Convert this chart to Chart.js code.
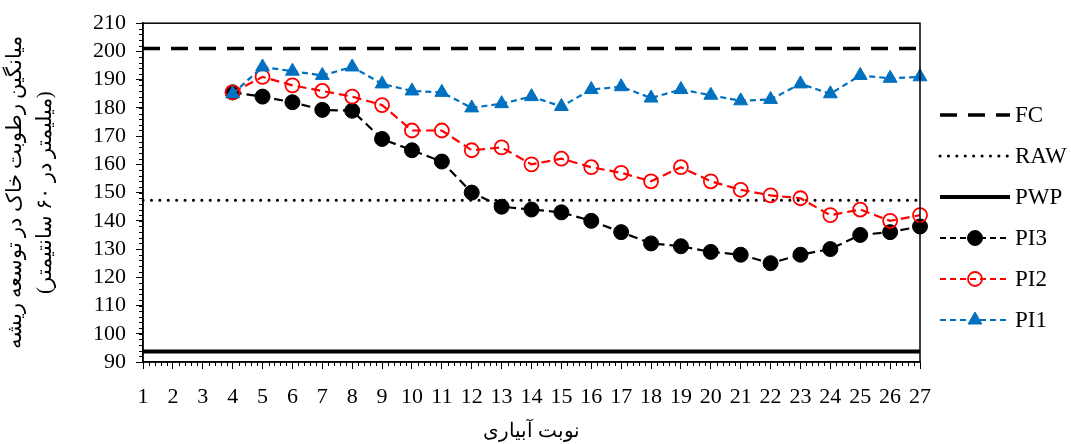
<!DOCTYPE html>
<html>
<head>
<meta charset="utf-8">
<script src="https://cdn.jsdelivr.net/npm/chart.js@4.4.1/dist/chart.umd.min.js"></script>
<style>
  html, body { margin: 0; padding: 0; background: #fff; }
  #wrap { width: 1071px; height: 444px; }
</style>
</head>
<body>
<div id="wrap"><canvas id="soilChart"></canvas></div>
<script>
// --- DATA ---
const irrigationRounds = ['1','2','3','4','5','6','7','8','9','10','11','12','13','14',
  '15','16','17','18','19','20','21','22','23','24','25','26','27'];
const pi3Values = [null, null, null, 185.5, 184, 182, 179.3, 179, 169, 165, 161, 150, 145, 144,
  143, 140, 136, 132, 131, 129, 128, 125, 128, 130, 135, 136, 138];
const pi2Values = [null, null, null, 185.5, 191, 188, 186, 184, 181, 172, 172, 165, 166, 160,
  162, 159, 157, 154, 159, 154, 151, 149, 148, 142, 144, 140, 142];
const pi1Values = [null, null, null, 185, 194.5, 193, 191.5, 194.5, 188.5, 186, 185.5, 180, 181.5, 184,
  180.5, 186.5, 187.5, 183.5, 186.5, 184.5, 182.5, 183, 188.5, 185, 191.5, 190.5, 191];
const fcLevel = 201;
const rawLevel = 147.3;
const pwpLevel = 93.7;
const yMin = 90, yMax = 210, yStep = 10;

const yTitle = ['میانگین رطوبت خاک در توسعه ریشه', '(میلیمتر در ۶۰ سانتیمتر)'];
const xTitle = 'نوبت آبیاری';

const FONT = "'Liberation Serif', 'Times New Roman', serif";

// box round the plot, minor ticks and a legend with line samples
const extras = {
  id: 'extras',
  afterDraw(chart) {
    const { ctx, chartArea: a, scales: { x, y } } = chart;
    ctx.save();
    ctx.strokeStyle = '#000';
    ctx.lineWidth = 1.5;
    ctx.strokeRect(a.left, a.top, a.right - a.left, a.bottom - a.top);

    ctx.lineWidth = 1;
    ctx.beginPath();
    for (let v = yMin; v <= yMax; v += 2) {
      const py = Math.round(y.getPixelForValue(v)) + 0.5;
      ctx.moveTo(a.left - 4, py); ctx.lineTo(a.left, py);
    }
    for (let i = 0; i < irrigationRounds.length - 1; i++) {
      for (let k = 1; k < 5; k++) {
        const px = Math.round(x.getPixelForValue(i + k / 5)) + 0.5;
        ctx.moveTo(px, a.bottom); ctx.lineTo(px, a.bottom + 4);
      }
    }
    ctx.stroke();

    // legend
    const lx0 = 940, lx1 = 1010, rowTop = 115, rowGap = 41;
    chart.data.datasets.forEach((ds, i) => {
      const ry = rowTop + i * rowGap;
      ctx.save();
      ctx.strokeStyle = ds.borderColor;
      ctx.lineWidth = ds.borderWidth;
      ctx.lineCap = ds.borderCapStyle || 'butt';
      ctx.setLineDash(ds.legendDash || ds.borderDash || []);
      ctx.beginPath();
      ctx.moveTo(lx0, ry); ctx.lineTo(lx1, ry);
      ctx.stroke();
      ctx.setLineDash([]);
      if (ds.pointRadius > 0) {
        ctx.fillStyle = ds.pointBackgroundColor;
        ctx.strokeStyle = ds.pointBorderColor;
        ctx.lineWidth = ds.pointBorderWidth;
        Chart.helpers.drawPoint(ctx, {
          pointStyle: ds.pointStyle, radius: ds.pointRadius, rotation: 0,
          borderWidth: ds.pointBorderWidth
        }, (lx0 + lx1) / 2, ry);
      }
      ctx.fillStyle = '#000';
      ctx.font = '23px ' + FONT;
      ctx.textBaseline = 'middle';
      ctx.fillText(ds.label, lx1 + 5, ry + 1);
      ctx.restore();
    });
    ctx.restore();
  }
};

const flat = v => irrigationRounds.map(() => v);

const ctx = document.getElementById('soilChart').getContext('2d');
const soilChart = new Chart(ctx, {
  type: 'line',
  data: {
    labels: irrigationRounds,
    datasets: [
      { label: 'FC', data: flat(fcLevel), borderColor: '#000', borderWidth: 3.5,
        borderDash: [17, 11], pointRadius: 0, order: 5 },
      { label: 'RAW', data: flat(rawLevel), borderColor: '#000', borderWidth: 3,
        borderDash: [0.1, 8.3], borderCapStyle: 'round', pointRadius: 0, order: 4 },
      { label: 'PWP', data: flat(pwpLevel), borderColor: '#000', borderWidth: 4,
        pointRadius: 0, order: 3 },
      { label: 'PI3', data: pi3Values, borderColor: '#000', borderWidth: 2.2,
        borderDash: [9, 5], legendDash: [6, 4], pointStyle: 'circle', pointRadius: 7.5,
        pointBackgroundColor: '#000', pointBorderColor: '#000', pointBorderWidth: 1, order: 2 },
      { label: 'PI2', data: pi2Values, borderColor: '#ff0000', borderWidth: 2.2,
        borderDash: [9, 5], legendDash: [6, 4], pointStyle: 'circle', pointRadius: 7,
        pointBackgroundColor: 'rgba(0,0,0,0)', pointBorderColor: '#ff0000', pointBorderWidth: 1.8, order: 1 },
      { label: 'PI1', data: pi1Values, borderColor: '#0070c0', borderWidth: 2.2,
        borderDash: [6, 4], legendDash: [6, 4], pointStyle: 'triangle', pointRadius: 8,
        pointBackgroundColor: '#0070c0', pointBorderColor: '#0070c0', pointBorderWidth: 1, order: 0 }
    ]
  },
  options: {
    responsive: true,
    maintainAspectRatio: false,
    animation: false,
    spanGaps: false,
    layout: { padding: { top: 12, right: 151, left: 0, bottom: 0 } },
    plugins: { legend: { display: false }, tooltip: { enabled: false } },
    elements: { line: { tension: 0 } },
    scales: {
      x: {
        type: 'category',
        offset: false,
        afterFit(scale) { scale.height = 82; },
        grid: { drawOnChartArea: false, drawTicks: true, tickLength: 7, color: '#000', lineWidth: 1 },
        border: { display: true, color: '#000', width: 1.5 },
        ticks: { color: '#000', font: { family: FONT, size: 22 }, autoSkip: false, maxRotation: 0, padding: 15 },
        title: { display: true, text: xTitle, color: '#000', font: { family: FONT, size: 20 }, padding: { top: 4, bottom: 0 } }
      },
      y: {
        min: yMin, max: yMax,
        afterFit(scale) { scale.width = 143; },
        grid: { drawOnChartArea: false, drawTicks: true, tickLength: 7, color: '#000', lineWidth: 1 },
        border: { display: true, color: '#000', width: 1.5 },
        ticks: { stepSize: yStep, autoSkip: false, color: '#000', font: { family: FONT, size: 22 }, padding: 10 },
        title: { display: true, text: yTitle, color: '#000', font: { family: FONT, size: 21, lineHeight: 1.45 }, padding: { top: 0, bottom: 16 } }
      }
    }
  },
  plugins: [extras]
});
</script>
</body>
</html>
